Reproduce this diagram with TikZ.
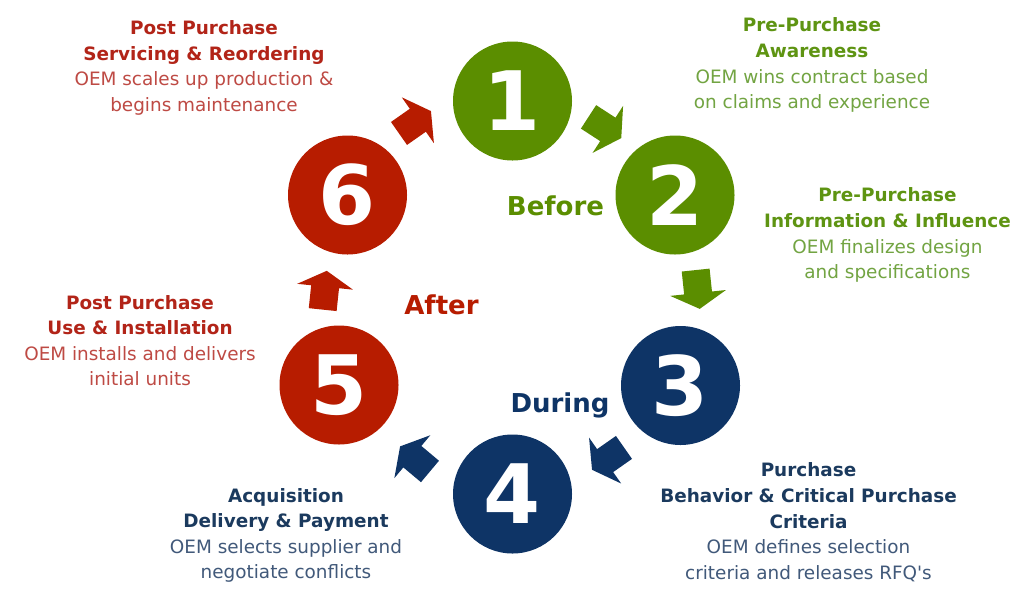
\documentclass[tikz,border=0pt]{standalone}
\usepackage{fontspec}
\setmainfont{DejaVu Sans}
\usetikzlibrary{calc}
\definecolor{greenC}{HTML}{5B8E00}
\definecolor{greenH}{HTML}{5E9412}
\definecolor{greenB}{HTML}{72A442}
\definecolor{redC}{HTML}{B71C00}
\definecolor{redH}{HTML}{B22418}
\definecolor{redB}{HTML}{BE4A44}
\definecolor{navyC}{HTML}{0E3466}
\definecolor{navyH}{HTML}{1B3A5E}
\definecolor{navyB}{HTML}{41597A}
\tikzset{
  numcircle/.style={circle, minimum size=119pt, inner sep=0pt, text=white,
    font=\fontsize{82}{82}\selectfont\bfseries},
  blk/.style={align=center, anchor=north, inner sep=0pt,
    font=\fontsize{18.4}{25.6}\selectfont},
  phase/.style={anchor=base, inner sep=0pt, font=\fontsize{26}{26}\selectfont\bfseries},
  blockarrow/.pic={\fill (-20,-14) -- (3,-14) -- (3,-28) -- (19,0) -- (3,28) -- (3,14) -- (-20,14) -- cycle;}
}
\begin{document}
\begin{tikzpicture}[x=1pt,y=-1pt]
\useasboundingbox (0,0) rectangle (1024,598);
\fill[white] (0,0) rectangle (1024,598);
% circles
\node[numcircle, fill=greenC] (c1) at (512.5,101) {1};
\node[numcircle, fill=greenC] (c2) at (675,195) {2};
\node[numcircle, fill=navyC] (c3) at (680.5,385.5) {3};
\node[numcircle, fill=navyC] (c4) at (512.5,494) {4};
\node[numcircle, fill=redC] (c5) at (339,385) {5};
\node[numcircle, fill=redC] (c6) at (347.5,195) {6};
\coordinate (ring) at (511.2,292.6);
% block arrows between circles
\pic[greenC, rotate=-33] at ($(ring)!1.14!($(c1)!.5!(c2)$)$) {blockarrow};
\pic[greenC, rotate=-84] at ($(ring)!1.12!($(c2)!.5!(c3)$)$) {blockarrow};
\pic[navyC, rotate=-145] at ($(ring)!1.13!($(c3)!.5!(c4)$)$) {blockarrow};
\pic[navyC, rotate=140] at ($(ring)!1.13!($(c4)!.5!(c5)$)$) {blockarrow};
\pic[redC, rotate=84] at ($(ring)!1.11!($(c5)!.5!(c6)$)$) {blockarrow};
\pic[redC, rotate=35] at ($(ring)!1.18!($(c6)!.5!(c1)$)$) {blockarrow};
% phase labels
\node[phase, text=greenC] (before) at (555.5,215) {Before};
\node[phase, text=redC] (after) at (441.5,314) {After};
\node[phase, text=navyC] (during) at (560,412) {During};
% text blocks
\node[blk, text=redH] (t6) at (204,20.3) {\textbf{Post Purchase}\\\textbf{Servicing \& Reordering}\\\textcolor{redB}{OEM scales up production \&}\\\textcolor{redB}{begins maintenance}};
\node[blk, text=greenH] (t1) at (812,17.7) {\textbf{Pre-Purchase}\\\textbf{Awareness}\\\textcolor{greenB}{OEM wins contract based}\\\textcolor{greenB}{on claims and experience}};
\node[blk, text=greenH] (t2) at (887.5,187.7) {\textbf{Pre-Purchase}\\\textbf{Information \& Influence}\\\textcolor{greenB}{OEM finalizes design}\\\textcolor{greenB}{and specifications}};
\node[blk, text=navyH] (t3) at (808.5,462.7) {\textbf{Purchase}\\\textbf{Behavior \& Critical Purchase}\\\textbf{Criteria}\\\textcolor{navyB}{OEM defines selection}\\\textcolor{navyB}{criteria and releases RFQ\textquotesingle s}};
\node[blk, text=navyH] (t4) at (286,488) {\textbf{Acquisition}\\\textbf{Delivery \& Payment}\\\textcolor{navyB}{OEM selects supplier and}\\\textcolor{navyB}{negotiate conflicts}};
\node[blk, text=redH] (t5) at (140,295) {\textbf{Post Purchase}\\\textbf{Use \& Installation}\\\textcolor{redB}{OEM installs and delivers}\\\textcolor{redB}{initial units}};
\end{tikzpicture}
\end{document}
